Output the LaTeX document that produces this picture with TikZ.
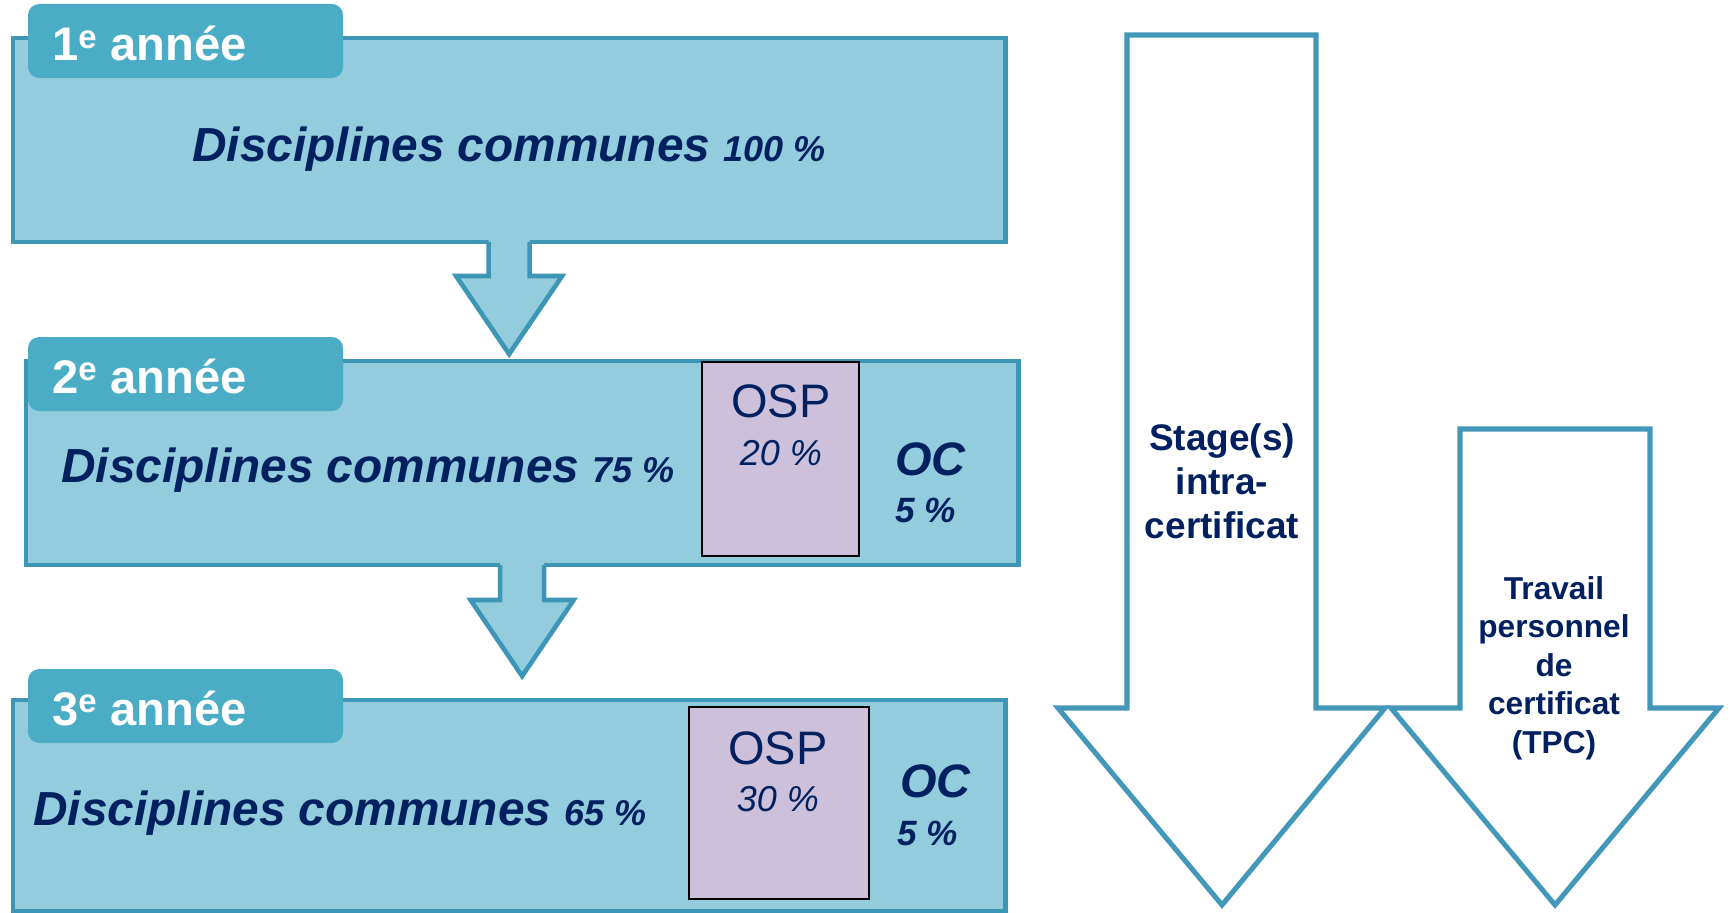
\documentclass[tikz,border=0pt]{standalone}
\usepackage{fontspec}
\setmainfont{Liberation Sans}
\usetikzlibrary{calc}
\definecolor{boxfill}{RGB}{147,205,221}
\definecolor{boxline}{RGB}{61,150,181}
\definecolor{tabfill}{RGB}{75,172,198}
\definecolor{navy}{RGB}{0,32,96}
\definecolor{ospfill}{RGB}{204,192,218}
\definecolor{bigline}{RGB}{67,152,185}
\newcommand{\smallpct}[1]{{\fontsize{25.6}{30}\selectfont #1}}

\begin{document}
\begin{tikzpicture}[x=0.025cm,y=-0.025cm,line join=miter,
    year box/.style={draw=boxline,fill=boxfill,line width=3.3pt,minimum width=24.8cm,minimum height=5.1cm,anchor=north west,inner sep=0pt,outer sep=0pt},
    year tab/.style={fill=tabfill,rounded corners=8pt,minimum width=7.875cm,minimum height=1.85cm,anchor=north west,inner sep=0pt,outer sep=0pt},
    tab text/.style={text=white,font=\bfseries\fontsize{33.5}{40}\selectfont,anchor=base west,inner sep=0pt},
    main text/.style={text=navy,font=\bfseries\itshape\fontsize{34}{40}\selectfont,anchor=base west,inner sep=0pt},
    osp box/.style={draw=black,fill=ospfill,line width=1.4pt,anchor=north west,inner sep=0pt,outer sep=0pt},
    osp text/.style={text=navy,font=\fontsize{33.4}{40}\selectfont,anchor=base,inner sep=0pt},
    osp pct/.style={text=navy,font=\itshape\fontsize{25.6}{30}\selectfont,anchor=base,inner sep=0pt},
    oc text/.style={text=navy,font=\bfseries\itshape\fontsize{33.4}{40}\selectfont,anchor=base west,inner sep=0pt},
    oc pct/.style={text=navy,font=\bfseries\itshape\fontsize{25}{30}\selectfont,anchor=base west,inner sep=0pt},
    step arrow/.style={draw=boxline,line width=3.3pt},
    big arrow/.style={draw=bigline,fill=white,line width=3.6pt},
    big text/.style={text=navy,font=\bfseries,align=center,inner sep=0pt}]
    \useasboundingbox (0,0) rectangle (1731,913);

    \node[year box] (y1) at (13,38) {};
    \node[year tab] (t1) at (28,4) {};
    \node[tab text] (l1) at ($(t1.north west)+(24,57)$) {1\textsuperscript{e} année};
    \node[main text,anchor=base] (d1) at (509,161) {Disciplines communes \smallpct{100 \%}};

    \fill[boxfill] ($(y1.south)+(-20.5,-3)$) -- ($(y1.south)+(-20.5,34)$) -- ($(y1.south)+(-53,34)$) -- ($(y1.south)+(0,112)$) -- ($(y1.south)+(53,34)$) -- ($(y1.south)+(20.5,34)$) -- ($(y1.south)+(20.5,-3)$) -- cycle;
    \draw[step arrow] ($(y1.south)+(-20.5,0)$) -- ($(y1.south)+(-20.5,34)$) -- ($(y1.south)+(-53,34)$) -- ($(y1.south)+(0,112)$) -- ($(y1.south)+(53,34)$) -- ($(y1.south)+(20.5,34)$) -- ($(y1.south)+(20.5,0)$);

    \node[year box] (y2) at (26,361) {};
    \node[year tab] (t2) at (28,337) {};
    \node[tab text] (l2) at ($(t2.north west)+(24,56)$) {2\textsuperscript{e} année};
    \node[main text] (d2) at (61,482) {Disciplines communes \smallpct{75 \%}};
    \node[osp box,minimum width=3.925cm,minimum height=4.85cm] (o2) at (702,362) {};
    \node[osp text] (os2) at (781,417) {OSP};
    \node[osp pct] (op2) at (781,465) {20 \%};
    \node[oc text] (c2) at (895,475) {OC};
    \node[oc pct] (cp2) at (895,522) {5 \%};

    \fill[boxfill] ($(y2.south)+(-22,-3)$) -- ($(y2.south)+(-22,35)$) -- ($(y2.south)+(-51.5,35)$) -- ($(y2.south)+(0,111)$) -- ($(y2.south)+(51.5,35)$) -- ($(y2.south)+(22,35)$) -- ($(y2.south)+(22,-3)$) -- cycle;
    \draw[step arrow] ($(y2.south)+(-22,0)$) -- ($(y2.south)+(-22,35)$) -- ($(y2.south)+(-51.5,35)$) -- ($(y2.south)+(0,111)$) -- ($(y2.south)+(51.5,35)$) -- ($(y2.south)+(22,35)$) -- ($(y2.south)+(22,0)$);

    \node[year box,minimum height=5.27cm] (y3) at (13,700) {};
    \node[year tab] (t3) at (28,669) {};
    \node[tab text] (l3) at ($(t3.north west)+(24,56)$) {3\textsuperscript{e} année};
    \node[main text] (d3) at (33,825) {Disciplines communes \smallpct{65 \%}};
    \node[osp box,minimum width=4.5cm,minimum height=4.8cm] (o3) at (689,707) {};
    \node[osp text] (os3) at (778,764) {OSP};
    \node[osp pct] (op3) at (778,811) {30 \%};
    \node[oc text] (c3) at (900,797) {OC};
    \node[oc pct] (cp3) at (897,845) {5 \%};

    \draw[big arrow] (1127,35) -- (1316,35) -- (1316,708) -- (1385,708) -- (1222,905) -- (1058,708) -- (1127,708) -- cycle;
    \draw[big arrow] (1460,429) -- (1650,429) -- (1650,708) -- (1719,708) -- (1555,905) -- (1391,708) -- (1460,708) -- cycle;
    \node[big text,font=\bfseries\fontsize{26.3}{31.3}\selectfont] (stage) at (1222,481) {Stage(s)\\intra-\\certificat};
    \node[big text,font=\bfseries\fontsize{22.5}{27.4}\selectfont] (tpc) at (1554,668) {Travail\\personnel\\de\\certificat\\(TPC)};
\end{tikzpicture}
\end{document}
